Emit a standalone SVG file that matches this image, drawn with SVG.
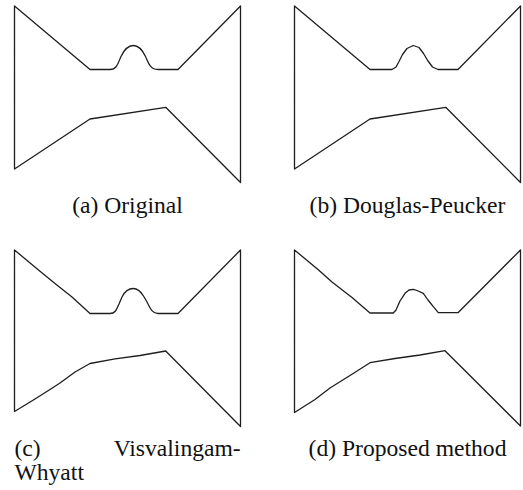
<svg xmlns="http://www.w3.org/2000/svg" width="523" height="490" viewBox="0 0 523 490">
  <style>
    .shape { fill: none; stroke: #1e1e1e; stroke-width: 1.3; stroke-linejoin: round; }
    .cap { font-family: "Liberation Serif", "Times New Roman", serif; font-size: 23.6px; fill: #111; }
  </style>
  <rect width="523" height="490" fill="#ffffff"/>

  <g id="panel-a">
    <path class="shape" d="M14.5,6 L90,69.5 L110,69.5 C117,69.5 118,63 121,56.5 C124.5,49 128,45.5 133.3,45.5 C138.5,45.5 142,49 145.5,56.5 C148.5,63 150,69.5 158,69.5 L178,69.5 L240.5,6 L240.5,182.5 L165.7,107.3 L90,119 L14.5,169 Z"/>
    <text class="cap" x="127.5" y="212.5" text-anchor="middle">(a) Original</text>
  </g>

  <g id="panel-b">
    <path class="shape" transform="translate(280,0)" d="M14.5,6 L90,69.5 L112,69.5 L116,67 L119,61.5 L122.5,54.5 L127,48.5 L133.3,45.5 L139,47.5 L143.5,53.5 L148,61 L152.5,67 L158,69.5 L178,69.5 L240.5,6 L240.5,182.5 L165.7,107.3 L90,119 L14.5,169 Z"/>
    <text class="cap" x="407.5" y="212.5" text-anchor="middle">(b) Douglas-Peucker</text>
  </g>

  <g id="panel-c">
    <path class="shape" transform="translate(0,244)" d="M14.5,6 L40,27.3 L55,39.5 L72,53 L90,69.5 L110,69.5 C116,69.5 117,64 119,60 L122,53 C125,47 128,44.5 133.3,44.5 C138,44.5 141,48 143.5,52 L147,58 C150,64 152,69.5 158,69.5 L178,69.5 L240.5,6 L240.5,182.5 L165.7,107 L140,111.5 L115,114.8 L90,119.5 L75,128 L60,139 L50,145.5 L35,155 L14.5,167.5 Z"/>
    <text class="cap" x="14.5" y="455.5">(c)</text>
    <text class="cap" x="240.7" y="455.5" text-anchor="end">Visvalingam-</text>
    <text class="cap" x="14.5" y="480">Whyatt</text>
  </g>

  <g id="panel-d">
    <path class="shape" transform="translate(280,244)" d="M14.5,6 L38,25.5 L52,38 L72,53.5 L90,69 L113.3,69 L116,66 L120,57 L125,49.3 L129,46 L133.3,45.3 L137,46.5 L143.3,49.3 L148,56 L153.3,62.7 L158.3,68.7 L178,68.7 L240.5,6 L240.5,182 L165,106.7 L140,111 L115,114.5 L90,118.7 L70,131.5 L50,144 L35,155.5 L14.5,168.5 Z"/>
    <text class="cap" x="407.5" y="455.5" text-anchor="middle">(d) Proposed method</text>
  </g>
</svg>
